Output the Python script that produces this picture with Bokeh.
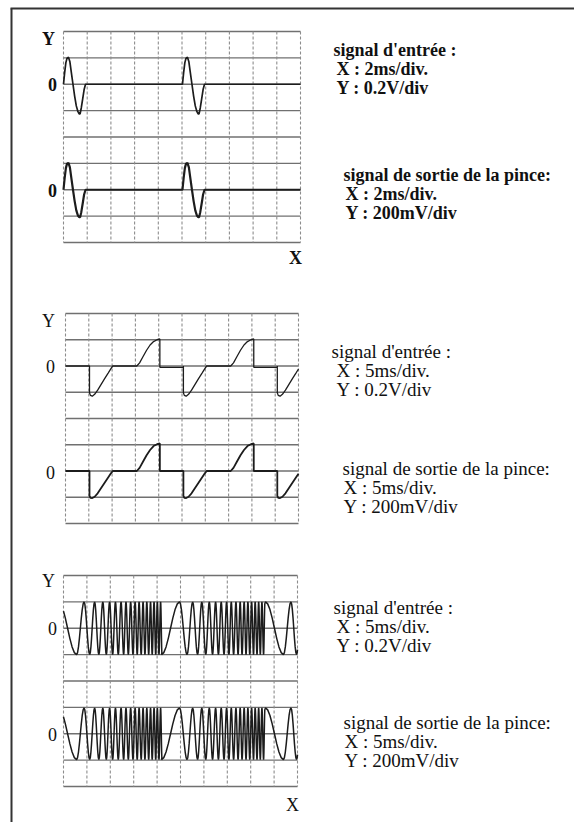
import numpy as np
from bokeh.plotting import figure
from bokeh.models import Range1d, ColumnDataSource
from bokeh.core.properties import value
from bokeh.embed import file_html
from bokeh.resources import INLINE

# ------------------------------------------------------------------
# DATA  (time in scope divisions, amplitude in scope divisions)
# ------------------------------------------------------------------
N_XDIV = 10
N_YDIV = 8

# Panel 1 : 2 ms/div - single-period pulses
pulse_starts = [0.0, 5.02]
pulse_t      = [0.00, 0.05, 0.10, 0.15, 0.21, 0.27, 0.33, 0.40, 0.47, 0.54, 0.61, 0.66, 0.70, 0.75, 0.81, 0.87, 0.93]
pulse_in_v   = [0.00, 0.45, 0.82, 0.99, 1.02, 0.85, 0.45, 0.00, -0.45, -0.82, -1.04, -1.12, -1.12, -0.90, -0.55, -0.20, 0.00]
pulse_out_v  = [0.00, 0.45, 0.82, 0.99, 1.02, 0.85, 0.45, 0.00, -0.43, -0.78, -0.98, -1.04, -1.04, -0.85, -0.52, -0.18, 0.00]

# Panel 2 : 5 ms/div - cut sine (one period shape after each drop)
ramp_drops = [1.03, 5.06, 9.09]
ramp_t     = [0.00, 0.00, 0.04, 0.12, 0.22, 0.35, 0.50, 0.65, 0.80, 0.92, 1.00, 2.03, 2.15, 2.30, 2.45, 2.60, 2.75, 2.90, 3.02, 3.02]
ramp_in_v  = [0.00, -1.02, -1.12, -1.15, -1.08, -0.92, -0.70, -0.48, -0.27, -0.10, 0.00, 0.00, 0.12, 0.36, 0.60, 0.80, 0.93, 1.00, 1.03, -0.05]
ramp_out_v = [0.00, -0.95, -1.02, -1.03, -0.98, -0.85, -0.65, -0.45, -0.25, -0.09, 0.00, 0.00, 0.12, 0.36, 0.60, 0.80, 0.95, 1.02, 1.05, 0.00]

# Panel 3 : 5 ms/div - frequency sweep; extrema times within one sweep
chirp_starts = [-0.21, 4.19, 8.63]
chirp_signs  = [1, -1, 1]
chirp_ext    = [0.00, 0.77, 1.09, 1.33, 1.54, 1.72, 1.89, 2.04, 2.18, 2.31, 2.43, 2.55,
                2.67, 2.78, 2.88, 2.98, 3.08, 3.18, 3.27, 3.36, 3.44, 3.53, 3.61, 3.69,
                3.77, 3.85, 3.93, 4.00, 4.08, 4.15, 4.22, 4.29, 4.36, 4.42]
chirp_in_amp  = 1.00
chirp_out_amp = 0.98

# texts
labels_in_2ms  = ["signal d'entrée :", "X : 2ms/div.", "Y : 0.2V/div"]
labels_out_2ms = ["signal de sortie de la pince:", "X : 2ms/div.", "Y : 200mV/div"]
labels_in_5ms  = ["signal d'entrée :", "X : 5ms/div.", "Y : 0.2V/div"]
labels_out_5ms = ["signal de sortie de la pince:", "X : 5ms/div.", "Y : 200mV/div"]

# ------------------------------------------------------------------
# LAYOUT (page pixels)
# ------------------------------------------------------------------
W, H = 574, 822
panels = [
    dict(x0=63, x1=300, y0=31, y1=242),
    dict(x0=65, x1=298, y0=313, y1=523),
    dict(x0=63, x1=297, y0=575, y1=786),
]
ZERO_ROWS = [2, 6]

FONT = value("Liberation Serif")
INK = "#1c1c1c"

p = figure(width=W, height=H, x_range=Range1d(0, W), y_range=Range1d(H, 0),
           x_axis_type=None, y_axis_type=None, toolbar_location=None,
           output_backend="svg", min_border=0, outline_line_color=None,
           background_fill_color="white", border_fill_color="white")

# page frame (left and top rules)
p.segment(x0=[11, 10], y0=[8, 8], x1=[11, W], y1=[H, 8], line_color="#333333", line_width=2)


def to_px(pan, t, v, row):
    dw = (pan["x1"] - pan["x0"]) / N_XDIV
    dh = (pan["y1"] - pan["y0"]) / N_YDIV
    t = np.asarray(t, float)
    v = np.asarray(v, float)
    return pan["x0"] + t * dw, pan["y0"] + (row - v) * dh


def draw_grid(pan):
    dw = (pan["x1"] - pan["x0"]) / N_XDIV
    dh = (pan["y1"] - pan["y0"]) / N_YDIV
    hx = [[pan["x0"], pan["x1"]] for i in range(N_YDIV + 1)]
    hy = [[pan["y0"] + i * dh] * 2 for i in range(N_YDIV + 1)]
    p.multi_line(hx, hy, line_color="#707070", line_width=1.3)
    vx = [[pan["x0"] + j * dw] * 2 for j in range(N_XDIV + 1)]
    vy = [[pan["y0"], pan["y1"]] for j in range(N_XDIV + 1)]
    p.multi_line(vx, vy, line_color="#8c8c8c", line_width=1.1, line_dash="3 2")


def clip(t, v, lo=0.0, hi=float(N_XDIV)):
    t = np.asarray(t, float)
    v = np.asarray(v, float)
    m = (t > lo) & (t < hi)
    tt = np.concatenate([[lo], t[m], [hi]])
    vv = np.concatenate([[np.interp(lo, t, v)], v[m], [np.interp(hi, t, v)]])
    return tt, vv


def pulse_trace(starts, pt, pv):
    ts, vs = [], []
    for s in starts:
        ts += [s + x for x in pt]
        vs += list(pv)
    ts.append(N_XDIV)
    vs.append(0.0)
    return ts, vs


def ramp_trace(drops, rt, rv):
    ts, vs = [0.0], [0.0]
    for d in drops:
        ts.append(d)
        vs.append(vs[-1])
        ts += [d + x for x in rt]
        vs += list(rv)
    ts.append(drops[-1] + 4.03)
    vs.append(vs[-1])
    t = np.array(ts)
    v = np.array(vs)
    m = t <= N_XDIV
    v_end = np.interp(N_XDIV, t, v)
    return np.concatenate([t[m], [N_XDIV]]), np.concatenate([v[m], [v_end]])


def chirp_trace(starts, signs, ext, amp):
    ts, vs = [], []
    u = np.linspace(0, 1, 9)[:-1]
    for s0, sg in zip(starts, signs):
        for k in range(len(ext) - 1):
            a = sg * amp * (-1) ** k
            b = -a
            ta, tb = s0 + ext[k], s0 + ext[k + 1]
            ts += list(ta + (tb - ta) * u)
            vs += list(a + (b - a) * (1 - np.cos(np.pi * u)) / 2)
    ts.append(starts[-1] + ext[-1])
    vs.append(signs[-1] * amp * (-1) ** (len(ext) - 1))
    return clip(ts, vs)


for pan in panels:
    draw_grid(pan)

# Panel 1 traces
t, v = pulse_trace(pulse_starts, pulse_t, pulse_in_v)
x, y = to_px(panels[0], t, v, ZERO_ROWS[0])
p.line(x, y, line_color=INK, line_width=1.7)
t, v = pulse_trace(pulse_starts, pulse_t, pulse_out_v)
x, y = to_px(panels[0], t, v, ZERO_ROWS[1])
p.line(x, y, line_color=INK, line_width=2.2)

# Panel 2 traces
t, v = ramp_trace(ramp_drops, ramp_t, ramp_in_v)
x, y = to_px(panels[1], t, v, ZERO_ROWS[0])
p.line(x, y, line_color=INK, line_width=1.3)
t, v = ramp_trace(ramp_drops, ramp_t, ramp_out_v)
x, y = to_px(panels[1], t, v, ZERO_ROWS[1])
p.line(x, y, line_color=INK, line_width=1.8)

# Panel 3 traces
t, v = chirp_trace(chirp_starts, chirp_signs, chirp_ext, chirp_in_amp)
x, y = to_px(panels[2], t, v, ZERO_ROWS[0])
p.line(x, y, line_color=INK, line_width=1.5)
t, v = chirp_trace(chirp_starts, chirp_signs, chirp_ext, chirp_out_amp)
x, y = to_px(panels[2], t, v, ZERO_ROWS[1])
p.line(x, y, line_color=INK, line_width=1.5)


def put(xs, ys, texts, size, bold=False, align="left"):
    src = ColumnDataSource(dict(x=xs, y=ys, text=texts))
    p.text(x="x", y="y", text="text", source=src, text_font=FONT,
           text_font_size=f"{size}px", text_font_style="bold" if bold else "normal",
           text_align=align, text_baseline="middle", text_color="#111111")


# axis letters
put([48, 52, 52, 295], [38, 84, 190, 257], ["Y", "0", "0", "X"], 18, bold=True, align="center")
put([48, 50, 50], [320, 366, 472], ["Y", "0", "0"], 18, align="center")
put([48, 52, 52, 292], [580, 628, 734, 804], ["Y", "0", "0", "X"], 18, align="center")

# captions
LS = 19
FS = 19
put([333, 336, 336], [49, 49 + LS, 49 + 2 * LS], labels_in_2ms, FS - 1, bold=True)
put([343, 345, 345], [174, 174 + LS, 174 + 2 * LS], labels_out_2ms, FS - 1, bold=True)
put([331, 336, 336], [351, 351 + LS, 351 + 2 * LS], labels_in_5ms, FS)
put([342, 343, 343], [468, 468 + LS, 468 + 2 * LS], labels_out_5ms, FS)
put([333, 336, 336], [607, 607 + LS, 607 + 2 * LS], labels_in_5ms, FS)
put([343, 344, 344], [722, 722 + LS, 722 + 2 * LS], labels_out_5ms, FS)

open("out.html", "w").write(file_html(p, INLINE))
